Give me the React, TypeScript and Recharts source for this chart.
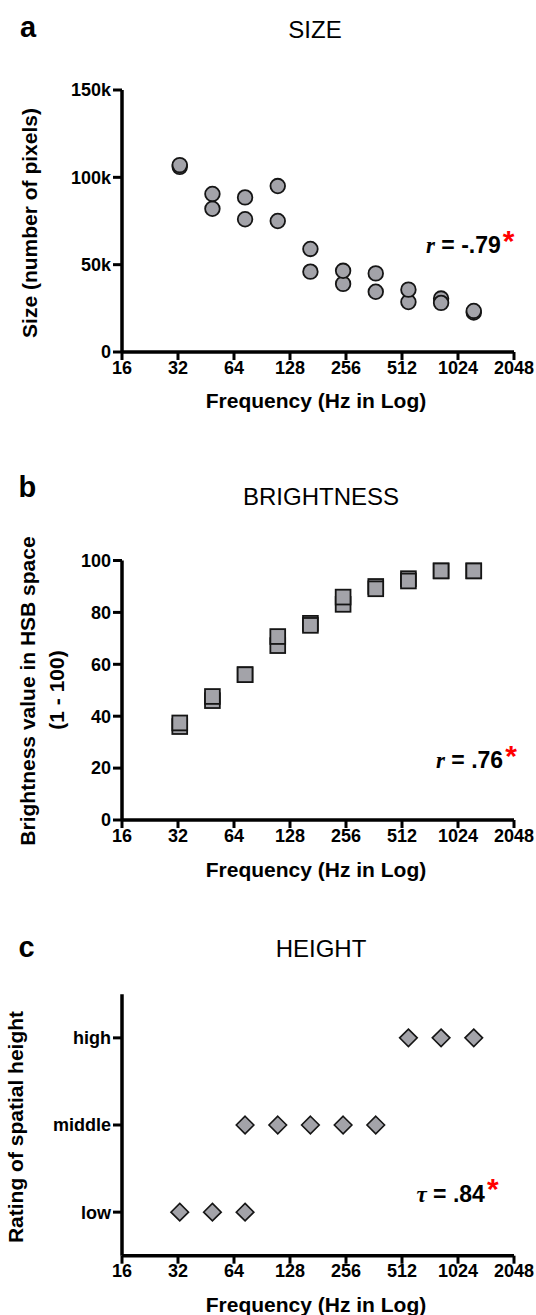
import { ScatterChart, Scatter, XAxis, YAxis } from "recharts";

// frequencies of the ten tones (Hz)
const freqs = [32.7, 49, 73.4, 110, 164.8, 247, 370, 554.4, 830.6, 1244.5];
const freqTicks = [16, 32, 64, 128, 256, 512, 1024, 2048];

// a: size (pixels), two runs per tone
const sizeRun1 = [106000, 82000, 76000, 75000, 46000, 39000, 34500, 28600, 30600, 22600];
const sizeRun2 = [107000, 90500, 88500, 95000, 59000, 46500, 45000, 35700, 28100, 23500];
const sizeTicks = [0, 50000, 100000, 150000];

// b: brightness (1 - 100), two runs per tone
const brightRun1 = [36, 46, 56, 67.2, 75.8, 83.1, 90, 93, 96, 96];
const brightRun2 = [37.4, 47.6, 56, 70.7, 75, 85.9, 89.1, 92.1, 96, 96];
const brightTicks = [0, 20, 40, 60, 80, 100];

// c: spatial height rating
const heightLabels = ["low", "middle", "high"];
const heightTicks = [1, 2, 3];
const lowFreqs = [32.7, 49, 73.4];
const middleFreqs = [73.4, 110, 164.8, 247, 370];
const highFreqs = [554.4, 830.6, 1244.5];

const SANS = "'Liberation Sans', Arial, Helvetica, sans-serif";
const SERIF = "'Liberation Serif', 'Times New Roman', serif";
const FILL = "#a3a3a9";
const EDGE = "#151515";

const tickStyle = { fill: "#000", fontSize: 18, fontWeight: 700, fontFamily: SANS, stroke: "none" };
const axisLine = { stroke: "#000", strokeWidth: 3.5 };
const tickLine = { stroke: "#000", strokeWidth: 3 };

const Dot = (p: any) => (
  <circle cx={p.cx} cy={p.cy} r={7.3} fill={FILL} stroke={EDGE} strokeWidth={1.8} />
);
const Square = (p: any) => (
  <rect x={p.cx - 7.4} y={p.cy - 7.4} width={14.8} height={14.8} fill={FILL} stroke={EDGE} strokeWidth={1.8} />
);
const Diamond = (p: any) => (
  <polygon
    points={`${p.cx},${p.cy - 8.8} ${p.cx + 8.8},${p.cy} ${p.cx},${p.cy + 8.8} ${p.cx - 8.8},${p.cy}`}
    fill={FILL}
    stroke={EDGE}
    strokeWidth={1.6}
  />
);

const pairs = (xs: number[], ys: number[]) => xs.map((f, i) => ({ f, v: ys[i] }));
const level = (xs: number[], v: number) => xs.map((f) => ({ f, v }));

const axisCommon = {
  stroke: "#000",
  strokeWidth: 3.5,
  tick: tickStyle,
  axisLine,
  tickLine,
  interval: 0 as const,
};

function FreqAxis() {
  return (
    <XAxis
      {...axisCommon}
      type="number"
      dataKey="f"
      scale="log"
      domain={[16, 2048]}
      ticks={freqTicks}
      allowDataOverflow
      height={40}
      tickSize={8}
      tickMargin={1}
    />
  );
}

function Note({ x, y, sym, text }: any) {
  return (
    <text x={x} y={y} fontFamily={SANS} fontSize={23} fontWeight={700} fill="#000">
      <tspan fontFamily={SERIF} fontStyle="italic">{sym}</tspan>
      <tspan>{" " + text}</tspan>
      <tspan fill="#ff0000" fontSize={30} dx={2} dy={-2.5}>*</tspan>
    </text>
  );
}

export default function App() {
  return (
    <div style={{ position: "absolute", left: 0, top: 0, width: 536, height: 1315, background: "#fff" }}>
      <div style={{ position: "absolute", left: 0, top: 0 }}>
        <ScatterChart width={536} height={400} margin={{ top: 90, right: 22, bottom: 8, left: 0 }}>
          {FreqAxis()}
          <YAxis
            {...axisCommon}
            type="number"
            dataKey="v"
            domain={[0, 150000]}
            ticks={sizeTicks}
            width={122}
            tickSize={9}
            tickMargin={2}
            tickFormatter={(v: number) => (v === 0 ? "0" : v / 1000 + "k")}
          />
          <Scatter data={pairs(freqs, sizeRun1)} shape={Dot} isAnimationActive={false} />
          <Scatter data={pairs(freqs, sizeRun2)} shape={Dot} isAnimationActive={false} />
        </ScatterChart>
      </div>

      <div style={{ position: "absolute", left: 0, top: 420 }}>
        <ScatterChart width={536} height={440} margin={{ top: 140.5, right: 22, bottom: 0, left: 0 }}>
          {FreqAxis()}
          <YAxis
            {...axisCommon}
            type="number"
            dataKey="v"
            domain={[0, 100]}
            ticks={brightTicks}
            width={122}
            tickSize={9}
            tickMargin={2}
          />
          <Scatter data={pairs(freqs, brightRun1)} shape={Square} isAnimationActive={false} />
          <Scatter data={pairs(freqs, brightRun2)} shape={Square} isAnimationActive={false} />
        </ScatterChart>
      </div>

      <div style={{ position: "absolute", left: 0, top: 880 }}>
        <ScatterChart width={536} height={435} margin={{ top: 114.3, right: 22, bottom: 19.3, left: 0 }}>
          {FreqAxis()}
          <YAxis
            {...axisCommon}
            type="number"
            dataKey="v"
            domain={[0.5, 3.5]}
            ticks={heightTicks}
            width={122}
            tickSize={9}
            tickMargin={2}
            tickFormatter={(v: number) => heightLabels[v - 1]}
          />
          <Scatter data={level(lowFreqs, 1)} shape={Diamond} isAnimationActive={false} />
          <Scatter data={level(middleFreqs, 2)} shape={Diamond} isAnimationActive={false} />
          <Scatter data={level(highFreqs, 3)} shape={Diamond} isAnimationActive={false} />
        </ScatterChart>
      </div>

      <svg width={536} height={1315} style={{ position: "absolute", left: 0, top: 0, pointerEvents: "none" }}>
        <g fontFamily={SANS} fill="#000">
          <text x={20} y={37.3} fontSize={29} fontWeight={700}>a</text>
          <text x={18.5} y={497} fontSize={29} fontWeight={700}>b</text>
          <text x={18.5} y={957} fontSize={29} fontWeight={700}>c</text>

          <text x={315} y={37.7} fontSize={24} textAnchor="middle">SIZE</text>
          <text x={321} y={505} fontSize={24} textAnchor="middle">BRIGHTNESS</text>
          <text x={321} y={956.7} fontSize={24} textAnchor="middle">HEIGHT</text>

          <g fontSize={21} fontWeight={700} textAnchor="middle">
            <text x={316} y={408}>Frequency (Hz in Log)</text>
            <text x={316} y={876.5}>Frequency (Hz in Log)</text>
            <text x={316} y={1312}>Frequency (Hz in Log)</text>
            <text x={37} y={223} transform="rotate(-90 37 223)">Size (number of pixels)</text>
            <text x={35} y={691} transform="rotate(-90 35 691)">Brightness value in HSB space</text>
            <text x={64} y={690} transform="rotate(-90 64 690)">(1 - 100)</text>
            <text x={23} y={1127} transform="rotate(-90 23 1127)">Rating of spatial height</text>
          </g>
        </g>
        <Note x={426} y={253.3} sym="r" text="= -.79" />
        <Note x={436} y={768.3} sym="r" text="= .76" />
        <Note x={416.5} y={1201.7} sym="τ" text="= .84" />
      </svg>
    </div>
  );
}
